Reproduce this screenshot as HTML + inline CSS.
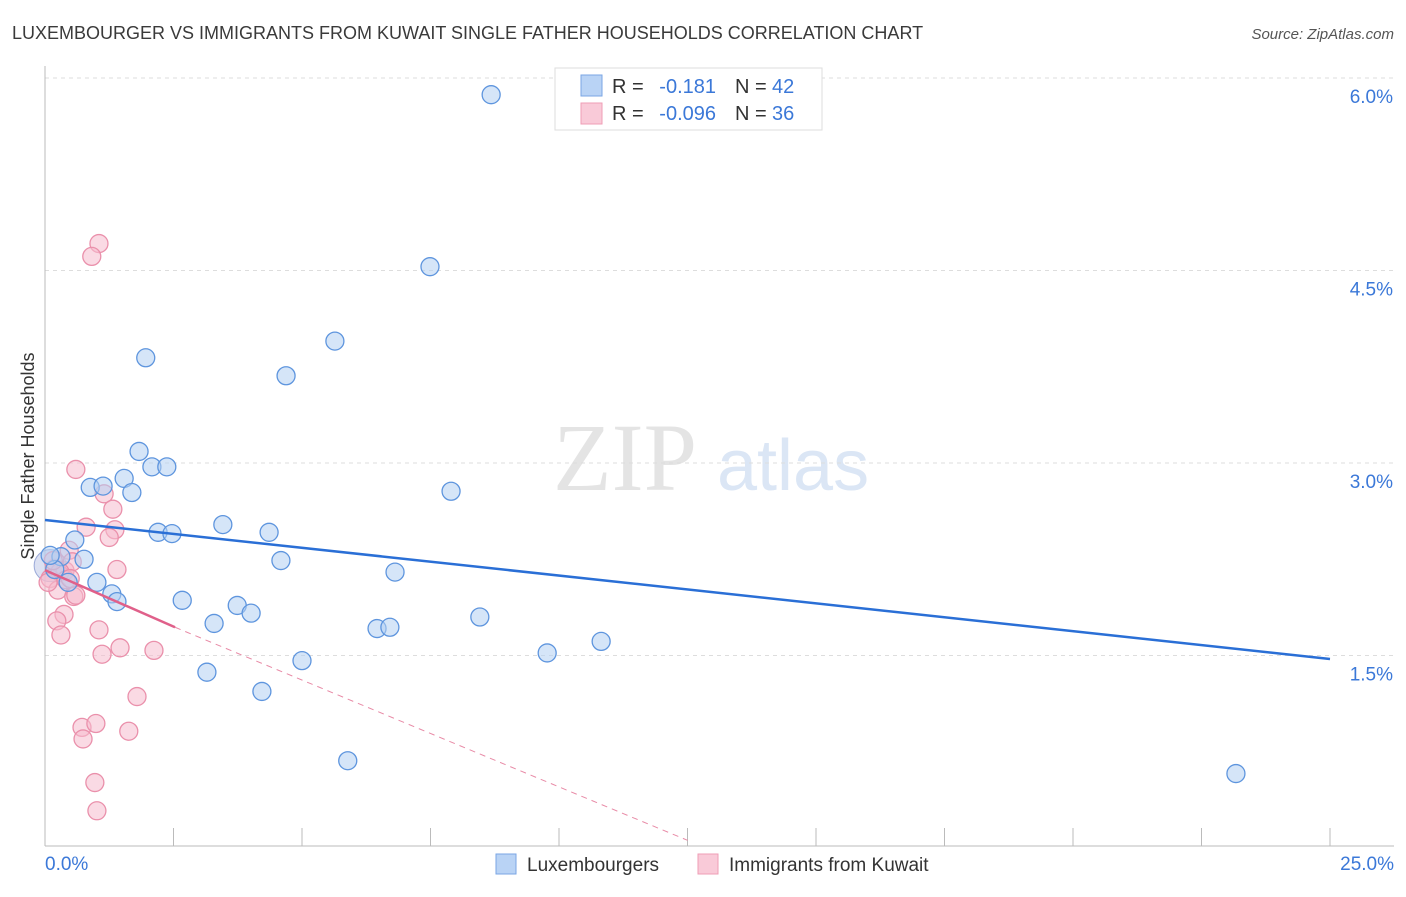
<!DOCTYPE html>
<html><head><meta charset="utf-8">
<style>
body{margin:0;background:#fff;font-family:"Liberation Sans",sans-serif;}
svg text{font-family:"Liberation Sans",sans-serif;}
</style></head>
<body>
<svg id="chart" width="1406" height="892" viewBox="0 0 1406 892" xmlns="http://www.w3.org/2000/svg">
<text x="12" y="39" font-size="18" fill="#3a3a3a">LUXEMBOURGER VS IMMIGRANTS FROM KUWAIT SINGLE FATHER HOUSEHOLDS CORRELATION CHART</text>
<text x="1394" y="39" font-size="15" fill="#555" font-style="italic" text-anchor="end">Source: ZipAtlas.com</text>
<text x="553" y="490" font-size="96" fill="#e4e4e4" font-family="Liberation Serif" style="font-family:'Liberation Serif',serif">ZIP</text>
<text x="717" y="490" font-size="72" fill="#dbe6f5">atlas</text>
<text transform="translate(34,456) rotate(-90)" font-size="18" fill="#333" text-anchor="middle">Single Father Households</text>
<g id="grid"></g>
<g id="axes"></g>
<g id="trends"></g>
<g id="points"></g>
<g>
<rect x="555" y="68" width="267" height="62" fill="#fff" stroke="#ddd"/>
<rect x="581" y="75" width="21" height="21" fill="#b9d3f5" stroke="#7aa6e4"/>
<rect x="581" y="103" width="21" height="21" fill="#f9cad8" stroke="#ef9db6"/>
<text x="612" y="93" font-size="20" fill="#333">R =</text><text x="716" y="93" font-size="20" fill="#3b78d8" text-anchor="end">-0.181</text>
<text x="735" y="93" font-size="20" fill="#333">N =</text><text x="772" y="93" font-size="20" fill="#3b78d8">42</text>
<text x="612" y="120" font-size="20" fill="#333">R =</text><text x="716" y="120" font-size="20" fill="#3b78d8" text-anchor="end">-0.096</text>
<text x="735" y="120" font-size="20" fill="#333">N =</text><text x="772" y="120" font-size="20" fill="#3b78d8">36</text>
</g>
<g>
<rect x="496" y="854" width="20" height="20" fill="#b9d3f5" stroke="#7aa6e4"/>
<text x="527" y="871" font-size="19" fill="#333">Luxembourgers</text>
<rect x="698" y="854" width="20" height="20" fill="#f9cad8" stroke="#ef9db6"/>
<text x="729" y="871" font-size="19" fill="#333">Immigrants from Kuwait</text>
</g>
</svg>
<script>
const blueX=[8.68,7.49,5.64,1.96,4.69,1.83,2.08,2.37,1.54,0.88,1.13,1.69,7.90,3.46,2.20,2.47,4.36,0.58,0.31,0.76,4.59,6.81,0.19,0.10,1.01,0.45,1.30,1.40,2.67,3.74,4.01,3.29,8.46,6.46,6.71,10.82,9.77,5.00,3.15,4.22,5.89,23.17];
const blueY=[5.87,4.53,3.95,3.82,3.68,3.09,2.97,2.97,2.88,2.81,2.82,2.77,2.78,2.52,2.46,2.45,2.46,2.40,2.27,2.25,2.24,2.15,2.17,2.28,2.07,2.07,1.98,1.92,1.93,1.89,1.83,1.75,1.80,1.71,1.72,1.61,1.52,1.46,1.37,1.22,0.68,0.58];
const pinkX=[1.05,0.91,0.60,1.15,1.32,0.80,1.36,1.25,0.47,0.19,0.39,0.10,0.53,1.40,0.25,0.56,0.60,0.37,0.23,0.31,1.05,1.11,1.46,2.12,1.79,0.72,0.99,0.74,1.63,0.97,1.01,0.29,0.06,0.16,0.41,0.49];
const pinkY=[4.71,4.61,2.95,2.76,2.64,2.50,2.48,2.42,2.32,2.18,2.16,2.10,2.23,2.17,2.01,1.96,1.97,1.82,1.77,1.66,1.70,1.51,1.56,1.54,1.18,0.94,0.97,0.85,0.91,0.51,0.29,2.15,2.07,2.24,2.09,2.10];
const blueTrendX=[0,25];
const blueTrendY=[2.556,1.473];
const pinkTrendX=[0,2.53,12.5];
const pinkTrendY=[2.165,1.72,0.06];
const yTicks=[1.5,3.0,4.5,6.0];
const yTickLabels=["1.5%","3.0%","4.5%","6.0%"];
const xTicks=[0,2.5,5,7.5,10,12.5,15,17.5,20,22.5,25];

const NS="http://www.w3.org/2000/svg";
const xs=v=>45+v/25*1285;
const ys=v=>848-v*128.33;
function mk(tag,attrs,parent){const e=document.createElementNS(NS,tag);for(const k in attrs)e.setAttribute(k,attrs[k]);parent.appendChild(e);return e;}
const grid=document.getElementById('grid'),axes=document.getElementById('axes'),pts=document.getElementById('points'),tr=document.getElementById('trends');
yTicks.forEach((t,i)=>{
 const l=mk('line',{x1:45,x2:1394,y1:ys(t),y2:ys(t),stroke:'#ddd','stroke-dasharray':'4,4'},grid);
 
 
 const tx=mk('text',{x:1393,y:ys(t)+25,'font-size':19,fill:'#3b78d8','text-anchor':'end'},axes);
 tx.textContent=yTickLabels[i];
 
 
});
const ya=mk('line',{x1:45,x2:45,y1:66,y2:846,stroke:'#bbb'},axes);


const xa=mk('line',{x1:45,x2:1394,y1:846,y2:846,stroke:'#bbb'},axes);


xTicks.forEach(t=>{
 const l=mk('line',{x1:xs(t),x2:xs(t),y1:828,y2:846,stroke:'#bbb'},axes);
 
 
});
const xl0=mk('text',{x:45,y:870,'font-size':19,fill:'#3b78d8'},axes);xl0.textContent='0.0%';


const xl1=mk('text',{x:1394,y:870,'font-size':19,fill:'#3b78d8','text-anchor':'end'},axes);xl1.textContent='25.0%';



function dot(x,y,fill,stroke,name){
 const c=mk('circle',{cx:xs(x),cy:ys(y),r:9,fill:fill,'fill-opacity':0.55,stroke:stroke,'stroke-width':1.3},pts);
 
 
}
const big=mk('circle',{cx:xs(0.1),cy:ys(2.2),r:16,fill:'#b9c3e6','fill-opacity':0.5,stroke:'#9aa9d8'},pts);


pinkX.forEach((x,i)=>dot(x,pinkY[i],'#f6bccd','#ea90ab','kuwait-point'));
blueX.forEach((x,i)=>dot(x,blueY[i],'#b3cff3','#5e95de','luxembourger-point'));

const bl=mk('line',{x1:xs(blueTrendX[0]),y1:ys(blueTrendY[0]),x2:xs(blueTrendX[1]),y2:ys(blueTrendY[1]),stroke:'#2a6fd6','stroke-width':2.5},tr);


const pl=mk('line',{x1:xs(pinkTrendX[0]),y1:ys(pinkTrendY[0]),x2:xs(pinkTrendX[1]),y2:ys(pinkTrendY[1]),stroke:'#e0608a','stroke-width':2.5},tr);


const pd=mk('line',{x1:xs(pinkTrendX[1]),y1:ys(pinkTrendY[1]),x2:xs(pinkTrendX[2]),y2:ys(pinkTrendY[2]),stroke:'#e88aa6','stroke-width':1,'stroke-dasharray':'6,5'},tr);


tr.parentNode.appendChild(tr);
</script>
</body></html>
